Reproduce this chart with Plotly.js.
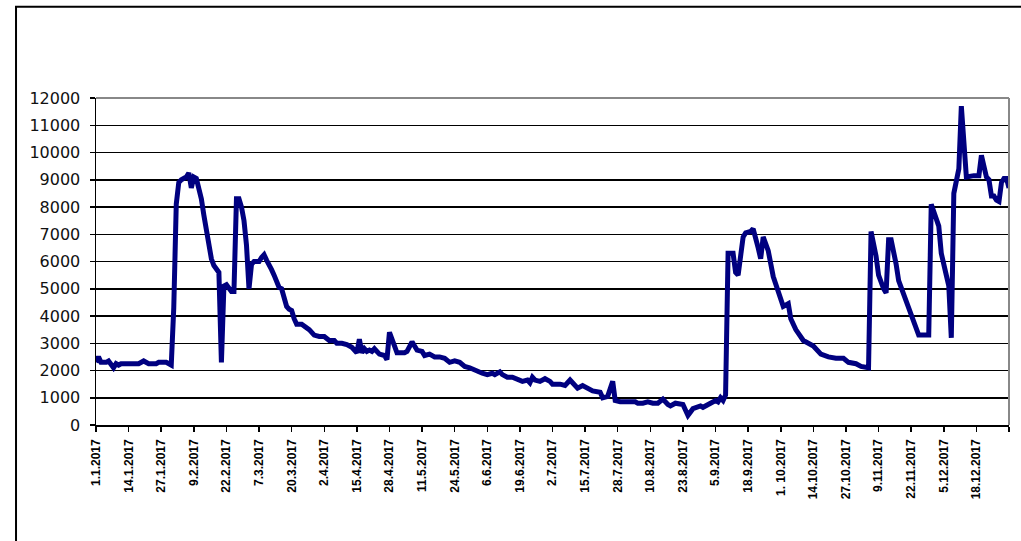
<!DOCTYPE html>
<html>
<head>
<meta charset="utf-8">
<script src="https://cdn.plot.ly/plotly-3.0.1.min.js"></script>
<style>html,body{margin:0;padding:0;background:#fff;}#chart{width:1021px;height:541px;}</style>
</head>
<body>
<div id="chart"></div>
<script>
// Day of year 2017 (0 = 1.1.2017) and daily values
const days = [0,1,2,4,5,7,8,9,10,17,19,21,24,25,28,30,31,32,33,34,36,37,38,39,40,41,42,43,44,45,46,47,48,49,50,51,52,53,54,55,56,57,58,59,60,61,62,63,65,66,67,68,69,70,71,72,73,74,75,76,77,78,79,80,82,84,85,87,89,91,93,95,96,
98,100,102,104,105,106,107,108,109,110,111,113,115,116,117,118,119,120,123,124,126,127,128,130,131,133,135,137,139,141,143,145,147,149,150,152,154,156,158,159,161,162,164,166,167,169,170,172,173,174,175,177,179,181,182,185,187,189,190,192,194,196,198,201,202,204,206,207,209,212,215,216,218,220,222,224,226,228,229,231,234,236,238,241,242,245,247,248,249,250,251,
252,254,255,256,258,259,261,262,264,265,266,268,270,272,274,276,277,279,282,284,286,289,292,295,298,300,303,305,308,
309,310,311,312,313,314,315,316,317,318,319,320,321,322,323,324,325,326,327,328,331,332,333,335,336,337,338,339,340,341,342,343,344,345,347,350,352,353,355,356,357,358,359,360,361,362,363,364];
const values = [2300,2500,2300,2300,2350,2100,2250,2200,2250,2250,2350,2250,2250,2300,2300,2200,4300,8100,8900,9000,9100,9250,8700,9100,9050,8700,8300,7700,7100,6500,6100,5850,5700,5600,2300,5100,5150,5000,4900,4900,8300,8300,8000,7500,6600,5000,5900,6000,6000,6150,6250,6050,5900,5700,5500,5200,5050,5000,4700,4350,4250,4200,3900,3700,3700,3600,3500,3300,3250,3250,3100,3100,3000,
3000,2950,2850,2650,3150,2650,2800,2700,2750,2700,2800,2600,2550,2400,3400,3200,2900,2650,2650,2700,3050,2900,2750,2700,2550,2600,2500,2500,2450,2300,2350,2300,2150,2100,2050,2000,1900,1850,1900,1850,1950,1850,1750,1750,1700,1650,1600,1650,1550,1750,1650,1600,1700,1600,1500,1500,1450,1650,1550,1350,1450,1350,1250,1200,1000,1050,1600,900,850,850,850,800,800,850,800,800,950,750,700,800,750,350,600,700,650,800,900,850,1000,900,1100,
6300,6300,5600,5500,6900,7050,7100,7200,6500,6100,6900,6400,5450,4850,4350,4450,3900,3500,3100,3000,2900,2600,2500,2450,2450,2300,2250,2150,2100,
7100,6700,6200,5500,5200,5000,4850,6800,6800,6400,5900,5300,5050,4900,4600,4400,4100,3900,3600,3300,3300,3300,8100,7600,7300,6300,5800,5500,5100,3200,8500,9100,9400,11700,9100,9150,9150,9900,9100,9000,8400,8400,8250,8200,8900,9050,9050,8700];

const tickLabels = ['1.1.2017','14.1.2017','27.1.2017','9.2.2017','22.2.2017','7.3.2017','20.3.2017','2.4.2017','15.4.2017','28.4.2017','11.5.2017','24.5.2017','6.6.2017','19.6.2017','2.7.2017','15.7.2017','28.7.2017','10.8.2017','23.8.2017','5.9.2017','18.9.2017','1. 10.2017','14.10.2017','27.10.2017','9.11.2017','22.11.2017','5.12.2017','18.12.2017',''];
const tickStep = 13;
const tickVals = tickLabels.map((_, i) => i * tickStep);

const trace = {
  x: days, y: values, type: 'scatter', mode: 'lines',
  line: {color: '#000080', width: 5},
  hoverinfo: 'skip'
};

const layout = {
  width: 1021, height: 541,
  margin: {l: 96, r: 12, t: 98, b: 116, pad: 0},
  paper_bgcolor: '#fff', plot_bgcolor: '#fff',
  showlegend: false,
  xaxis: {
    range: [0, 364], tickmode: 'array', tickvals: tickVals, ticktext: tickLabels,
    tickangle: -90, ticks: 'outside', ticklen: 5, tickwidth: 1.5, tickcolor: '#000',
    showgrid: false, zeroline: false, showline: true, linecolor: '#000', linewidth: 1.5,
    tickfont: {family: 'Liberation Sans, Arial, sans-serif', size: 12, color: '#000', weight: 'bold'},
    ticklabelstandoff: 3
  },
  yaxis: {
    range: [0, 12000], dtick: 1000, tick0: 0, tickformat: 'd',
    ticks: 'outside', ticklen: 5, tickwidth: 1.5, tickcolor: '#000',
    showgrid: true, gridcolor: '#000', gridwidth: 1.5,
    zeroline: false, showline: true, linecolor: '#000', linewidth: 1.5,
    tickfont: {family: 'DejaVu Sans, Verdana, sans-serif', size: 16, color: '#111'},
    ticklabelstandoff: 6
  },
  shapes: [
    {type: 'line', xref: 'paper', yref: 'paper', x0: 0, x1: 1, y0: 1, y1: 1, line: {color: '#888', width: 2}, layer: 'above'},
    {type: 'line', xref: 'paper', yref: 'paper', x0: 1, x1: 1, y0: 0, y1: 1, line: {color: '#888', width: 2}, layer: 'above'},
    {type: 'path', xref: 'paper', yref: 'paper', path: 'M -0.0876,-0.4 L -0.0876,1.279 L 1.05,1.279', line: {color: '#000', width: 2}, layer: 'above'}
  ]
};

Plotly.newPlot('chart', [trace], layout, {staticPlot: true, displayModeBar: false});
</script>
</body>
</html>
